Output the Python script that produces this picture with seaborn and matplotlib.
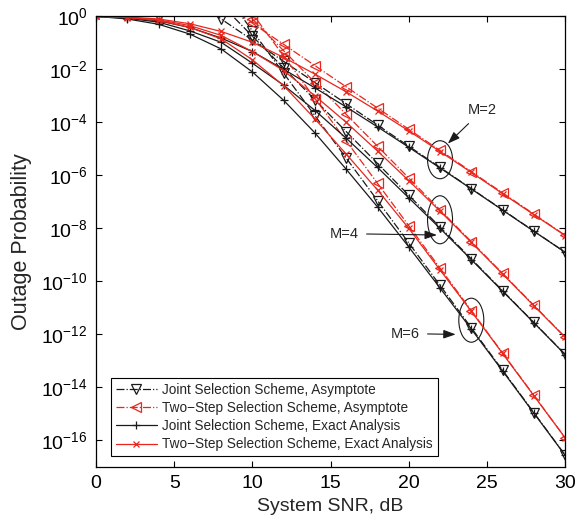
import numpy as np
import matplotlib
matplotlib.use("Agg")
import matplotlib.pyplot as plt
import seaborn as sns
from matplotlib.patches import Ellipse

# SNR grid (dB)
snr_db = [0, 2, 4, 6, 8, 10, 12, 14, 16, 18, 20, 22, 24, 26, 28, 30]
asym_db = [6, 8, 10, 12, 14, 16, 18, 20, 22, 24, 26, 28, 30]

# log10 of outage probability
joint_exact_m2 = [0, -0.05, -0.17, -0.42, -0.82, -1.33, -2.0, -2.7, -3.42, -4.17, -4.94, -5.72, -6.51, -7.31, -8.11, -8.9]
two_exact_m2 = [0, -0.03, -0.1, -0.28, -0.57, -0.98, -1.55, -2.18, -2.85, -3.57, -4.32, -5.1, -5.89, -6.69, -7.48, -8.27]
joint_exact_m4 = [0, -0.07, -0.22, -0.55, -0.98, -1.77, -2.6, -3.55, -4.6, -5.7, -6.85, -8.0, -9.18, -10.37, -11.56, -12.76]
two_exact_m4 = [0, -0.04, -0.13, -0.35, -0.72, -1.33, -2.05, -3.0, -4.0, -5.08, -6.2, -7.35, -8.53, -9.72, -10.92, -12.11]
joint_exact_m6 = [0, -0.1, -0.3, -0.67, -1.23, -2.1, -3.17, -4.4, -5.77, -7.19, -8.7, -10.25, -11.8, -13.38, -14.97, -16.56]
two_exact_m6 = [0, -0.05, -0.15, -0.42, -0.85, -1.64, -2.62, -3.87, -5.2, -6.55, -8.0, -9.57, -11.13, -12.72, -14.31, -15.9]

joint_asym_m2 = [0.7, -0.1, -0.9, -1.7, -2.5, -3.3, -4.1, -4.9, -5.7, -6.5, -7.3, -8.1, -8.9]
two_asym_m2 = [1.34, 0.54, -0.26, -1.06, -1.86, -2.66, -3.46, -4.26, -5.06, -5.86, -6.66, -7.46, -8.26]
joint_asym_m4 = [1.65, 0.45, -0.75, -1.95, -3.15, -4.35, -5.55, -6.75, -7.95, -9.15, -10.35, -11.55, -12.75]
two_asym_m4 = [2.3, 1.1, -0.1, -1.3, -2.5, -3.7, -4.9, -6.1, -7.3, -8.5, -9.7, -10.9, -12.1]
joint_asym_m6 = [2.65, 1.05, -0.55, -2.15, -3.75, -5.35, -6.95, -8.55, -10.15, -11.75, -13.35, -14.95, -16.55]
two_asym_m6 = [3.3, 1.7, 0.1, -1.5, -3.1, -4.7, -6.3, -7.9, -9.5, -11.1, -12.7, -14.3, -15.9]

legend_labels = ["Joint Selection Scheme, Asymptote",
                 "Two\u2212Step Selection Scheme, Asymptote",
                 "Joint Selection Scheme, Exact Analysis",
                 "Two\u2212Step Selection Scheme, Exact Analysis"]

sns.set_style("ticks")
plt.rcParams['font.family'] = ['Liberation Sans', 'DejaVu Sans']
plt.rcParams['mathtext.default'] = 'regular'

BLACK = '#1a1a1a'
RED = '#e8261c'

fig, ax = plt.subplots(figsize=(5.79, 5.27), dpi=100)
fig.subplots_adjust(left=0.166, right=0.976, bottom=0.114, top=0.969)

# (x, log-values, colour, linestyle, marker, markersize)
groups = [
    (asym_db, [joint_asym_m2, joint_asym_m4, joint_asym_m6], BLACK, '-.', 'v', 6.5),
    (asym_db, [two_asym_m2, two_asym_m4, two_asym_m6], RED, '-.', '<', 6.5),
    (snr_db, [joint_exact_m2, joint_exact_m4, joint_exact_m6], BLACK, '-', '+', 6),
    (snr_db, [two_exact_m2, two_exact_m4, two_exact_m6], RED, '-', 'x', 4.5),
]

handles = []
for x, curves, col, ls, mk, ms in groups:
    for i, logp in enumerate(curves):
        sns.lineplot(x=x, y=10.0 ** np.array(logp), ax=ax, color=col,
                     linestyle=ls, lw=0.9, marker=mk, ms=ms, mfc='none',
                     mec=col, mew=0.9)
        if i == 0:
            handles.append(ax.lines[-1])

ax.set_yscale('log')
ax.set_xlim(0, 30)
ax.set_ylim(1e-17, 1)
ax.set_xticks([0, 5, 10, 15, 20, 25, 30])
yt = np.arange(0, -17, -2)
ax.set_yticks(10.0 ** yt)
ax.set_yticklabels([r'$10^{%d}$' % v for v in yt])
ax.yaxis.set_minor_locator(matplotlib.ticker.NullLocator())
ax.tick_params(direction='in', length=4, width=0.8, top=True, right=True,
               labelsize=14, colors='black', pad=6)
for s in ax.spines.values():
    s.set_linewidth(0.9)
    s.set_color('black')

ax.set_xlabel('System SNR, dB', fontsize=14)
ax.set_ylabel('Outage Probability', fontsize=15.5, labelpad=7)

leg = ax.legend(handles, legend_labels, loc='lower left',
                bbox_to_anchor=(0.032, 0.024), fontsize=9.8, frameon=True,
                fancybox=False, edgecolor='black', framealpha=1,
                borderaxespad=0, handlelength=3, handletextpad=0.4,
                labelspacing=0.3, borderpad=0.35)
leg.get_frame().set_linewidth(0.8)


def to_axes(x, y):
    return ax.transAxes.inverted().transform(ax.transData.transform((x, y)))


# ellipses around the marked pairs, and their labels
marks = [
    ('M=2', 22, joint_exact_m2, two_exact_m2, 38, (24.7, 10 ** -3.55), (22.5, 10 ** -4.8)),
    ('M=4', 22, joint_exact_m4, two_exact_m4, 48, (15.9, 10 ** -8.2), (21.8, 10 ** -8.25)),
    ('M=6', 24, joint_exact_m6, two_exact_m6, 44, (19.8, 10 ** -11.97), (23.0, 10 ** -12.0)),
]
ax_w_px = 469.0
ax_h_px = 450.5
for txt, xs, lo, hi, h_px, txt_pos, tip in marks:
    k = snr_db.index(xs)
    cy = 10 ** ((lo[k] + hi[k]) / 2)
    cx_ax, cy_ax = to_axes(xs, cy)
    ax.add_patch(Ellipse((cx_ax, cy_ax), 25 / ax_w_px, h_px / ax_h_px,
                         transform=ax.transAxes, fill=False,
                         edgecolor=BLACK, lw=0.8))
    ax.annotate(txt, xy=tip, xytext=txt_pos, fontsize=10.5, ha='center',
                va='center',
                arrowprops=dict(arrowstyle='-|>,head_length=0.7,head_width=0.25',
                                color=BLACK, lw=0.8, shrinkA=3, shrinkB=0))

fig.savefig('out.png', dpi=100)
